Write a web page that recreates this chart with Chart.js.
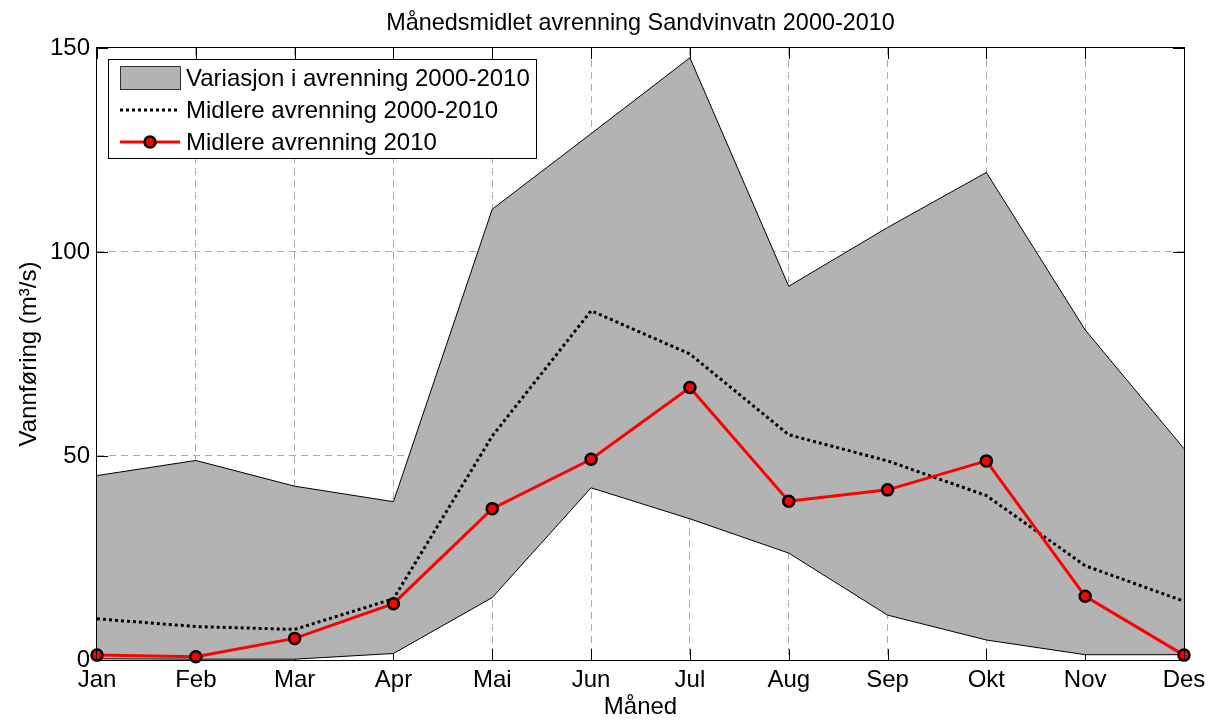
<!DOCTYPE html>
<html>
<head>
<meta charset="utf-8">
<script src="https://cdn.jsdelivr.net/npm/chart.js@4"></script>
<style>
  body { margin: 0; background: #fff; }
  #wrap { width: 1217px; height: 722px; }
</style>
</head>
<body>
<div id="wrap"><canvas id="chart" width="1217" height="722"></canvas></div>
<script>
// Månedsverdier lest av figuren (m3/s)
const months = ['Jan', 'Feb', 'Mar', 'Apr', 'Mai', 'Jun', 'Jul', 'Aug', 'Sep', 'Okt', 'Nov', 'Des'];
const maxFlow = [45.2, 48.9, 42.6, 38.8, 110.5, 129.0, 147.6, 91.6, 106.0, 119.5, 80.9, 51.8];
const minFlow = [0.3, 0.2, 0.2, 1.6, 15.3, 42.2, 34.6, 26.2, 11.0, 4.9, 1.3, 1.3];
const meanFlow = [10.1, 8.2, 7.5, 15.0, 54.9, 85.6, 75.0, 55.2, 48.8, 40.3, 23.1, 14.4];
const flow2010 = [1.2, 0.8, 5.3, 13.8, 37.1, 49.2, 66.8, 38.9, 41.7, 48.8, 15.6, 1.2];
const yTicks = [0, 50, 100, 150];
const seriesLabels = ['Variasjon i avrenning 2000-2010', 'Midlere avrenning 2000-2010', 'Midlere avrenning 2010'];

const FONT = "'Liberation Sans', Arial, Helvetica, sans-serif";
const GRAY = '#b3b3b3';

// tick marks inside the box + the box itself
const axesBox = {
    id: 'axesBox',
    beforeDatasetsDraw(chart) {
        const { ctx, chartArea: a, scales } = chart;
        const tl = 11;
        ctx.save();
        ctx.strokeStyle = '#000';
        ctx.lineWidth = 1;
        ctx.beginPath();
        months.forEach((m, i) => {
            const x = Math.round(scales.x.getPixelForValue(i)) + 0.5;
            ctx.moveTo(x, a.bottom); ctx.lineTo(x, a.bottom - tl);
            ctx.moveTo(x, a.top); ctx.lineTo(x, a.top + tl);
        });
        yTicks.forEach(v => {
            const y = Math.round(scales.y.getPixelForValue(v)) + 0.5;
            ctx.moveTo(a.left, y); ctx.lineTo(a.left + tl, y);
            ctx.moveTo(a.right, y); ctx.lineTo(a.right - tl, y);
        });
        ctx.stroke();
        ctx.restore();
    },
    afterDatasetsDraw(chart) {
        const { ctx, chartArea: a } = chart;
        ctx.save();
        ctx.strokeStyle = '#000';
        ctx.lineWidth = 1;
        ctx.strokeRect(Math.round(a.left) - 0.5, Math.round(a.top) - 0.5, Math.round(a.right - a.left) + 1, Math.round(a.bottom - a.top) + 1);
        ctx.restore();
    }
};

// MATLAB-style legend box in the upper left corner
const legendBox = {
    id: 'legendBox',
    afterDraw(chart) {
        const ctx = chart.ctx;
        const bx = 108, by = 59, bw = 428, bh = 99;
        ctx.save();
        ctx.fillStyle = '#fff';
        ctx.fillRect(bx, by, bw, bh);
        ctx.strokeStyle = '#000';
        ctx.lineWidth = 1;
        ctx.strokeRect(bx + 0.5, by + 0.5, bw, bh);

        const rows = [78, 110, 142];
        const x0 = 120, x1 = 180, tx = 186;

        // patch
        ctx.fillStyle = GRAY;
        ctx.fillRect(x0, 66, x1 - x0, 23);
        ctx.strokeStyle = '#333';
        ctx.strokeRect(x0 + 0.5, 66.5, x1 - x0, 23);

        // dotted line
        ctx.beginPath();
        ctx.strokeStyle = '#000';
        ctx.lineWidth = 3;
        ctx.setLineDash([3, 3]);
        ctx.moveTo(x0, rows[1]); ctx.lineTo(x1, rows[1]);
        ctx.stroke();
        ctx.setLineDash([]);

        // red line with marker
        ctx.beginPath();
        ctx.strokeStyle = '#ff0000';
        ctx.lineWidth = 3;
        ctx.moveTo(x0, rows[2]); ctx.lineTo(x1, rows[2]);
        ctx.stroke();
        ctx.beginPath();
        ctx.arc((x0 + x1) / 2, rows[2], 5.5, 0, Math.PI * 2);
        ctx.fillStyle = '#ff0000';
        ctx.fill();
        ctx.lineWidth = 2.5;
        ctx.strokeStyle = '#000';
        ctx.stroke();

        ctx.fillStyle = '#000';
        ctx.font = '24px ' + FONT;
        ctx.textBaseline = 'middle';
        ctx.textAlign = 'left';
        seriesLabels.forEach((t, i) => ctx.fillText(t, tx, rows[i] + 1));
        ctx.restore();
    }
};

new Chart(document.getElementById('chart'), {
    type: 'line',
    data: {
        labels: months,
        datasets: [
            {
                label: seriesLabels[2],
                data: flow2010,
                borderColor: '#ff0000',
                borderWidth: 3,
                pointRadius: 5.5,
                pointBorderWidth: 2.5,
                pointBackgroundColor: '#ff0000',
                pointBorderColor: '#000',
                fill: false,
                clip: false,
                order: 0
            },
            {
                label: seriesLabels[1],
                data: meanFlow,
                borderColor: '#000',
                borderWidth: 3,
                borderDash: [3, 3],
                pointRadius: 0,
                fill: false,
                clip: false,
                order: 1
            },
            {
                label: 'min',
                data: minFlow,
                borderColor: '#000',
                borderWidth: 1,
                pointRadius: 0,
                fill: false,
                clip: false,
                order: 2
            },
            {
                label: seriesLabels[0],
                data: maxFlow,
                borderColor: '#000',
                borderWidth: 1,
                pointRadius: 0,
                backgroundColor: GRAY,
                fill: 2,
                clip: false,
                order: 3
            }
        ]
    },
    options: {
        responsive: false,
        animation: false,
        layout: { padding: { left: 0, right: 33, top: 0, bottom: 0 } },
        elements: { line: { tension: 0 } },
        plugins: {
            legend: { display: false },
            tooltip: { enabled: false },
            title: {
                display: true,
                fullSize: false,
                text: 'Månedsmidlet avrenning Sandvinvatn 2000-2010',
                color: '#000',
                font: { family: FONT, size: 23.4, weight: 'normal' },
                padding: { top: 9.8, bottom: 10.1 }
            }
        },
        scales: {
            x: {
                type: 'category',
                offset: false,
                afterFit: s => { s.height = 62; },
                grid: {
                    offset: false,
                    drawTicks: false,
                    color: ctx => (ctx.index === 0 || ctx.index === months.length - 1) ? 'rgba(0,0,0,0)' : '#aaaaaa',
                    lineWidth: 1
                },
                border: { display: false, dash: [7, 5] },
                ticks: {
                    color: '#000',
                    padding: 5.5,
                    maxRotation: 0,
                    autoSkip: false,
                    font: { family: FONT, size: 24 }
                },
                title: {
                    display: true,
                    text: 'Måned',
                    color: '#000',
                    font: { family: FONT, size: 24 },
                    padding: { top: 0, bottom: 0 }
                }
            },
            y: {
                min: 0,
                max: 150,
                afterFit: s => { s.width = 97; },
                afterBuildTicks: s => { s.ticks = yTicks.map(v => ({ value: v })); },
                grid: {
                    drawTicks: false,
                    color: ctx => (ctx.tick && (ctx.tick.value === 0 || ctx.tick.value === 150)) ? 'rgba(0,0,0,0)' : '#aaaaaa',
                    lineWidth: 1
                },
                border: { display: false, dash: [7, 5] },
                ticks: {
                    color: '#000',
                    padding: 7,
                    font: { family: FONT, size: 24 }
                },
                title: {
                    display: true,
                    text: 'Vannføring (m³/s)',
                    color: '#000',
                    font: { family: FONT, size: 24 },
                    padding: { top: 14.5, bottom: 0 }
                }
            }
        }
    },
    plugins: [axesBox, legendBox]
});
</script>
</body>
</html>
